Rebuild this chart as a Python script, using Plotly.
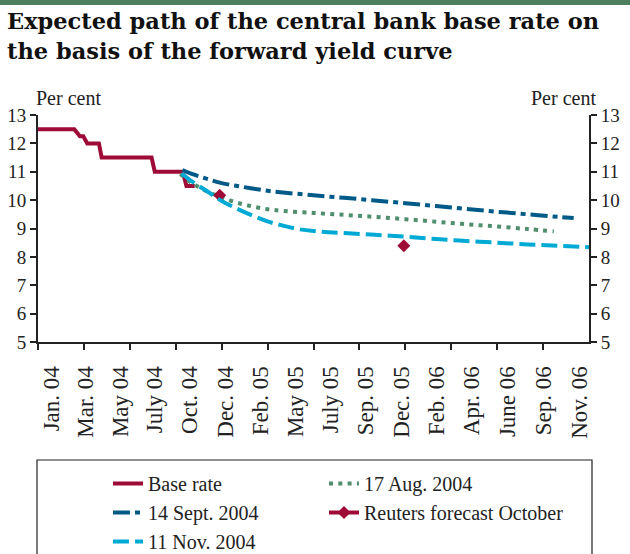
import plotly.graph_objects as go

# ---------------- data (x = months since 1 Jan 2004) ----------------
base_x = [0, 2.37, 2.74, 2.96, 3.22, 3.98, 4.16, 7.42, 7.63, 9.46, 9.70, 10.24]
base_y = [12.5, 12.5, 12.25, 12.25, 12.0, 12.0, 11.5, 11.5, 11.0, 11.0, 10.5, 10.5]

aug_x = [9.3, 10, 11, 12, 13, 14, 15, 16, 18, 20, 22, 24, 26, 28, 30, 32, 33.7]
aug_y = [10.92, 10.62, 10.32, 10.1, 9.91, 9.78, 9.68, 9.62, 9.55, 9.48, 9.41, 9.33, 9.24, 9.15, 9.07, 8.98, 8.9]

sep_x = [9.44, 10, 11, 12, 13, 14, 15, 16, 18, 20, 22, 24, 26, 28, 30, 32, 34, 35]
sep_y = [11.06, 10.93, 10.76, 10.6, 10.5, 10.41, 10.33, 10.27, 10.17, 10.08, 9.99, 9.89, 9.79, 9.69, 9.59, 9.5, 9.41, 9.37]

nov_x = [9.4, 10, 11, 12, 13, 14, 15, 16, 17, 18, 19, 20, 22, 24, 26, 28, 30, 32, 34, 36]
nov_y = [10.94, 10.68, 10.33, 9.97, 9.7, 9.46, 9.25, 9.1, 8.98, 8.91, 8.87, 8.84, 8.78, 8.71, 8.63, 8.56, 8.5, 8.44, 8.39, 8.34]

reuters_x = [11.87, None, 23.9]
reuters_y = [10.17, None, 8.39]

tick_months = [0, 3, 6, 9, 12, 15, 18, 21, 24, 27, 30, 33]
label_pos = [0.91, 3.13, 5.36, 7.64, 9.93, 12.28, 14.57, 16.85, 19.14, 21.42,
             23.78, 26.06, 28.35, 30.70, 33.05, 35.40]
label_text = ["Jan. 04", "Mar. 04", "May 04", "July 04", "Oct. 04", "Dec. 04",
              "Feb. 05", "May 05", "July 05", "Sep. 05", "Dec. 05", "Feb. 06",
              "Apr. 06", "June 06", "Sep. 06", "Nov. 06"]
y_ticks = [5, 6, 7, 8, 9, 10, 11, 12, 13]
title_lines = ["Expected path of the central bank base rate on",
               "the basis of the forward yield curve"]

# ---------------- styles / layout geometry ----------------
MAROON = "#9E0B36"
DARKBLUE = "#005A87"
GREEN = "#4F8F6F"
LIGHTBLUE = "#00AAD4"
SERIF = "Liberation Serif"
W, H = 630, 554
L, R, T, B = 38, 41, 115, 212
PW, PH = W - L - R, H - T - B


def px_x(px):
    return (px - L) / PW


def px_y(py):
    return (H - B - py) / PH


fig = go.Figure()
fig.add_trace(go.Scatter(x=base_x, y=base_y, mode="lines", name="Base rate",
                         legend="legend", line=dict(color=MAROON, width=4)))
fig.add_trace(go.Scatter(x=aug_x, y=aug_y, mode="lines", name="17 Aug. 2004",
                         legend="legend2",
                         line=dict(color=GREEN, width=4, dash="4px,5.3px", shape="spline")))
fig.add_trace(go.Scatter(x=sep_x, y=sep_y, mode="lines", name="14 Sept. 2004",
                         legend="legend",
                         line=dict(color=DARKBLUE, width=4, dash="17px,5px,5px,5px", shape="spline")))
fig.add_trace(go.Scatter(x=reuters_x, y=reuters_y, mode="lines+markers",
                         name="Reuters forecast October", connectgaps=False,
                         legend="legend2",
                         line=dict(color=MAROON, width=4),
                         marker=dict(symbol="diamond", size=10, color=MAROON)))
fig.add_trace(go.Scatter(x=nov_x, y=nov_y, mode="lines", name="11 Nov. 2004",
                         legend="legend",
                         line=dict(color=LIGHTBLUE, width=4, dash="16px,6px", shape="spline")))
# helper trace so that the secondary axes are drawn
fig.add_trace(go.Scatter(x=[None], y=[None], xaxis="x2", yaxis="y2",
                         showlegend=False, hoverinfo="skip"))

axis_font = dict(family=SERIF, size=19, color="#222")
legend_common = dict(orientation="v", yanchor="top", xanchor="left",
                     font=dict(family=SERIF, size=20, color="#222"),
                     bgcolor="rgba(0,0,0,0)", borderwidth=0,
                     traceorder="normal", tracegroupgap=0)

fig.update_layout(
    width=W, height=H,
    margin=dict(l=L, r=R, t=T, b=B, autoexpand=False),
    paper_bgcolor="white", plot_bgcolor="white",
    showlegend=True,
    xaxis=dict(range=[0, 36], tickvals=tick_months, showticklabels=False,
               ticks="outside", ticklen=6, tickwidth=2, tickcolor="#222",
               showline=True, linewidth=2, linecolor="#222", automargin=False,
               showgrid=False, zeroline=False, fixedrange=True),
    xaxis2=dict(range=[0, 36], overlaying="x", anchor="y", side="bottom",
                tickvals=label_pos, ticktext=label_text, tickangle=-90,
                ticks="outside", ticklen=14, tickcolor="rgba(0,0,0,0)",
                tickfont=dict(family=SERIF, size=23, color="#222"),
                showline=False, showgrid=False, zeroline=False, automargin=False),
    yaxis=dict(range=[5, 13], tickvals=y_ticks, ticks="outside", ticklen=6,
               tickwidth=2, tickcolor="#222", tickfont=axis_font,
               showline=True, linewidth=2, linecolor="#222", automargin=False,
               showgrid=False, zeroline=False),
    yaxis2=dict(range=[5, 13], tickvals=y_ticks, overlaying="y", side="right",
                anchor="x", ticks="outside", ticklen=6, tickwidth=2,
                tickcolor="#222", tickfont=axis_font, automargin=False,
                showline=True, linewidth=2, linecolor="#222",
                showgrid=False, zeroline=False),
    legend=dict(x=px_x(108), y=px_y(464), **legend_common),
    legend2=dict(x=px_x(324), y=px_y(464), **legend_common),
    shapes=[
        dict(type="rect", xref="paper", yref="paper",
             x0=px_x(-5), x1=px_x(W + 5), y0=px_y(-2), y1=px_y(5),
             fillcolor="#4C7F5B", line=dict(width=0), layer="above"),
        dict(type="rect", xref="paper", yref="paper",
             x0=px_x(37), x1=px_x(592), y0=px_y(460), y1=px_y(H + 6),
             fillcolor="rgba(0,0,0,0)", line=dict(color="#222", width=1.2)),
    ],
    annotations=[
        dict(text=title_lines[0], xref="paper", yref="paper",
             x=px_x(5), xanchor="left", y=px_y(21), yanchor="middle",
             showarrow=False,
             font=dict(family="DejaVu Serif", size=22.5, color="#111", weight="bold")),
        dict(text=title_lines[1], xref="paper", yref="paper",
             x=px_x(5), xanchor="left", y=px_y(51), yanchor="middle",
             showarrow=False,
             font=dict(family="DejaVu Serif", size=22.5, color="#111", weight="bold")),
        dict(text="Per cent", xref="paper", yref="paper",
             x=px_x(34), xanchor="left", y=px_y(98), yanchor="middle",
             showarrow=False, font=dict(family=SERIF, size=20, color="#222")),
        dict(text="Per cent", xref="paper", yref="paper",
             x=px_x(598), xanchor="right", y=px_y(98), yanchor="middle",
             showarrow=False, font=dict(family=SERIF, size=20, color="#222")),
    ],
)

fig.write_html("out.html", config={"displayModeBar": False},
               post_script="document.body.style.margin='0';")
